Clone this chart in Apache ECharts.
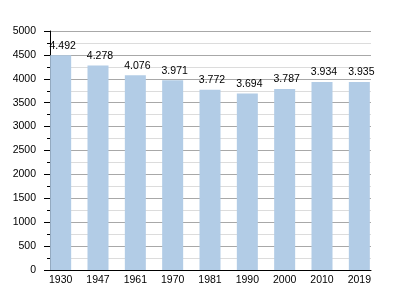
<!DOCTYPE html>
<html><head><meta charset="utf-8">
<script src="https://cdn.jsdelivr.net/npm/echarts@6/dist/echarts.min.js"></script>
<style>html,body{margin:0;padding:0;background:#fff}#c{width:400px;height:300px}</style>
</head><body><div id="c"></div>
<script>
var years = ['1930','1947','1961','1970','1981','1990','2000','2010','2019'];
var population = [4492,4278,4076,3971,3772,3694,3787,3934,3935];
var yTicks = [0,500,1000,1500,2000,2500,3000,3500,4000,4500,5000];

var FONT = 'Liberation Sans';
function fmt(v){ var s = String(v); return s.length > 3 ? s.slice(0, s.length-3) + '.' + s.slice(s.length-3) : s; }

var chart = echarts.init(document.getElementById('c'), null, {renderer:'canvas'});
chart.setOption({
  animation:false,
  backgroundColor:'#fff',
  grid:[
    {left:42, right:22, top:31, bottom:30},
    {left:50, right:29, top:31, bottom:30}
  ],
  xAxis:[
    {gridIndex:0, type:'category', data:years, boundaryGap:true,
     axisLine:{show:false}, axisTick:{show:false}, splitLine:{show:false},
     axisLabel:{margin:5, color:'#000', fontFamily:FONT, fontSize:10.5}},
    {gridIndex:1, type:'value', min:0, max:1,
     axisLine:{show:true, lineStyle:{color:'#000', width:1}}, axisTick:{show:false},
     axisLabel:{show:false}, splitLine:{show:false}}
  ],
  yAxis:[
    {gridIndex:0, type:'value', min:yTicks[0], max:yTicks[yTicks.length-1], show:false, splitLine:{show:false}},
    {gridIndex:1, type:'value', min:yTicks[0], max:yTicks[yTicks.length-1], interval:500,
     axisLine:{show:true, lineStyle:{color:'#000', width:1}},
     axisTick:{show:true, length:6, lineStyle:{color:'#000'}},
     minorTick:{show:true, splitNumber:2, length:3, lineStyle:{color:'#000'}},
     splitLine:{show:true, lineStyle:{color:'#a8a8a8', width:1}},
     minorSplitLine:{show:true, lineStyle:{color:'#dcdcdc', width:1}},
     axisLabel:{margin:14, color:'#000', fontFamily:FONT, fontSize:10.5,
       formatter:function(v){return String(v);}}}
  ],
  series:[{
    type:'bar', xAxisIndex:0, yAxisIndex:0, data:population, barWidth:21, z:3,
    itemStyle:{color:'#b2cce6'},
    label:{show:true, position:'top', distance:4, offset:[2,0], color:'#000',
      fontFamily:FONT, fontSize:10.5, formatter:function(p){return fmt(p.value);}}
  }]
});
</script></body></html>
